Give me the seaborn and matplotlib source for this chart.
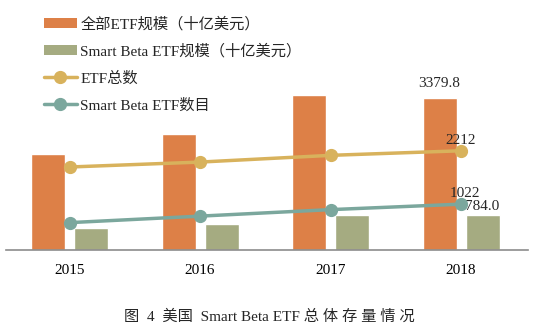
import matplotlib
matplotlib.use("Agg")
import matplotlib.pyplot as plt
import seaborn as sns
import pandas as pd
from matplotlib.patches import Patch
from matplotlib.lines import Line2D

years = ["2015", "2016", "2017", "2018"]
etf_aum = [2140, 2590, 3460, 3379.8]
sb_aum = [490, 580, 780, 784.0]
etf_count = [1850, 1960, 2110, 2212]
sb_count = [610, 755, 900, 1022]
bar_names = ["全部ETF规模（十亿美元）", "Smart Beta ETF规模（十亿美元）"]
line_names = ["ETF总数", "Smart Beta ETF数目"]

c_orange = "#DD8047"
c_olive = "#A5AB81"
c_gold = "#D8B25C"
c_teal = "#7BA79D"

sns.set_theme(style="white")
plt.rcParams['font.family'] = ['Liberation Serif', 'Noto Sans CJK SC']

bars = pd.DataFrame({
    "year": years * 2,
    "value": etf_aum + sb_aum,
    "series": [bar_names[0]] * 4 + [bar_names[1]] * 4,
})

fig = plt.figure(figsize=(5.38, 3.28), dpi=100)
ax = fig.add_axes([6 / 538, 78 / 328, 522 / 538, 240 / 328])

sns.barplot(data=bars, x="year", y="value", hue="series", order=years,
            hue_order=bar_names, palette=[c_orange, c_olive],
            width=0.66, gap=0.21, saturation=1, legend=False, ax=ax)

xs = list(range(len(years)))
ax.plot(xs, etf_count, color=c_gold, lw=2.5, marker="o", ms=8.5, zorder=5)
ax.plot(xs, sb_count, color=c_teal, lw=2.5, marker="o", ms=8.5, zorder=5)

ax.set_xlim(-0.487, 3.513)
ax.set_ylim(0, 5350)
ax.set_xlabel("")
ax.set_ylabel("")
ax.set_yticks([])
for s in ["top", "left", "right"]:
    ax.spines[s].set_visible(False)
ax.spines["bottom"].set_color("#8c8c8c")
ax.spines["bottom"].set_linewidth(1.2)
ax.tick_params(axis="x", length=0, pad=10, labelsize=11, colors="black")

fs = 11
ax.annotate(f"{etf_aum[3]:.1f}", (3 - 0.165, etf_aum[3]), xytext=(0, 6),
            textcoords="offset points", ha="center", va="bottom", fontsize=fs)
ax.annotate(f"{sb_aum[3]:.1f}", (3 + 0.165, sb_aum[3]), xytext=(0, 1),
            textcoords="offset points", ha="center", va="bottom", fontsize=fs)
ax.annotate(f"{etf_count[3]}", (3, etf_count[3]), xytext=(0, 3),
            textcoords="offset points", ha="center", va="bottom", fontsize=fs)
ax.annotate(f"{sb_count[3]}", (3, sb_count[3]), xytext=(3, 3),
            textcoords="offset points", ha="center", va="bottom", fontsize=fs)

handles = [
    Patch(facecolor=c_orange, edgecolor="none"),
    Patch(facecolor=c_olive, edgecolor="none"),
    Line2D([0], [0], color=c_gold, lw=2.5, marker="o", ms=8.5),
    Line2D([0], [0], color=c_teal, lw=2.5, marker="o", ms=8.5),
]
fig.legend(handles, bar_names + line_names, loc="upper left",
           bbox_to_anchor=(36 / 538, 1 - 9 / 328), frameon=False,
           fontsize=11, handlelength=2.2, handleheight=0.65,
           handletextpad=0.2, labelspacing=0.83, borderpad=0)

fig.text(0.5, 11 / 328, "图  4  美国  Smart Beta ETF 总 体 存 量 情 况",
         ha="center", va="center", fontsize=11)

fig.savefig("out.png", dpi=100)
